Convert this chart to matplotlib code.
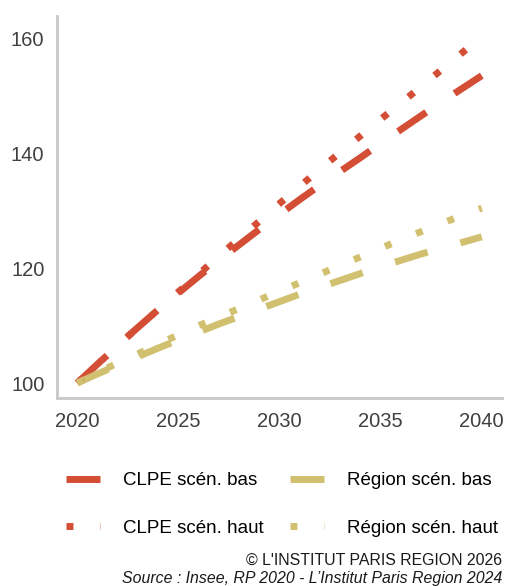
import matplotlib
matplotlib.use("Agg")
import matplotlib.pyplot as plt

plt.rcParams['font.family'] = ['Liberation Sans', 'DejaVu Sans']

years = list(range(2020, 2041))
clpe_bas = [100, 103.3, 106.6, 109.7, 112.8, 115.7, 118.6, 121.4, 124.1, 126.8, 129.4,
            132.0, 134.5, 136.9, 139.3, 141.8, 144.2, 146.6, 149.0, 151.3, 153.6]
clpe_haut = [100, 103.3, 106.5, 109.7, 112.8, 115.9, 119.0, 122.1, 125.2, 128.2, 131.3,
             134.3, 137.3, 140.2, 143.1, 146.0, 148.8, 151.7, 154.6, 157.5, 160.4]
region_bas = [100, 101.6, 103.1, 104.6, 106.1, 107.5, 108.9, 110.3, 111.6, 112.9, 114.2,
              115.5, 116.7, 117.9, 119.1, 120.3, 121.4, 122.5, 123.5, 124.5, 125.5]
region_haut = [100, 101.8, 103.5, 105.1, 106.8, 108.4, 110.0, 111.5, 113.0, 114.5, 116.0,
               117.5, 119.0, 120.5, 122.0, 123.5, 125.0, 126.4, 127.8, 129.2, 130.5]

labels = ["CLPE scén. bas", "CLPE scén. haut", "Région scén. bas", "Région scén. haut"]
xticks = [2020, 2025, 2030, 2035, 2040]
yticks = [100, 120, 140, 160]

RED = "#D44E36"
YEL = "#D1C070"

fig = plt.figure(figsize=(5.05, 5.86), dpi=100)
ax = fig.add_axes([57/505, 1-398/586, (502-57)/505, (398-16)/586])

lw = 5.0
bas_dash = (4.9, 4.9)
haut_dash = (1.0, 3.85)

h1, = ax.plot(years, clpe_bas, color=RED, lw=lw, dashes=bas_dash, dash_capstyle='butt')
h3, = ax.plot(years, region_bas, color=YEL, lw=lw, dashes=bas_dash, dash_capstyle='butt')
h2, = ax.plot(years, clpe_haut, color=RED, lw=lw, dashes=haut_dash, dash_capstyle='butt')
h4, = ax.plot(years, region_haut, color=YEL, lw=lw, dashes=haut_dash, dash_capstyle='butt')

ax.set_xlim(2019, 2041)
ax.set_ylim(97.4, 164)
ax.set_xticks(xticks)
ax.set_yticks(yticks)
ax.tick_params(axis='both', length=0, labelsize=14.5, colors='#404040')
ax.tick_params(axis='y', pad=9)
ax.tick_params(axis='x', pad=10)
for s in ['top', 'right']:
    ax.spines[s].set_visible(False)
for s in ['left', 'bottom']:
    ax.spines[s].set_color('#C8C8C8')
    ax.spines[s].set_linewidth(2.0)

fig.legend([h1, h2, h3, h4], labels, ncol=2, loc='upper left',
           bbox_to_anchor=(66/505, 1-472/586), frameon=False, fontsize=13.5,
           handlelength=1.81, handletextpad=1.23, columnspacing=1.39,
           labelspacing=1.62, borderpad=0, borderaxespad=0)

fig.text(502/505, 1-560/586, "© L'INSTITUT PARIS REGION 2026", ha='right', va='center',
         fontsize=11.4, color='#1a1a1a')
fig.text(502/505, 1-578/586, "Source : Insee, RP 2020 - L’Institut Paris Region 2024",
         ha='right', va='center', fontsize=11.4, style='italic', color='#1a1a1a')

fig.savefig("out.png", dpi=100)
